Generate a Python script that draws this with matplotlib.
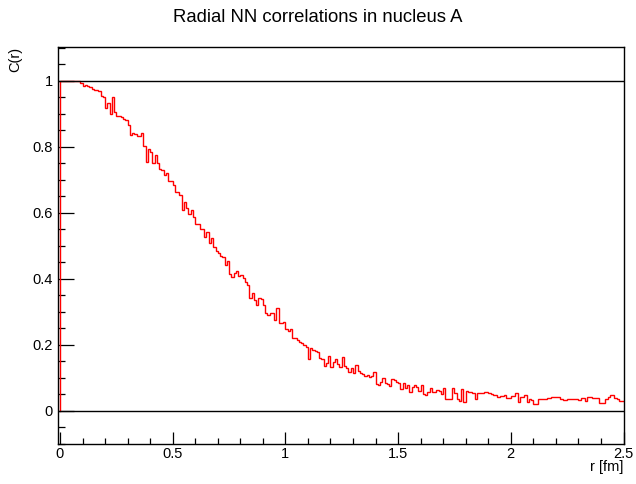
import numpy as np
import matplotlib
matplotlib.use("Agg")
import matplotlib.pyplot as plt
from matplotlib.ticker import MultipleLocator, FuncFormatter

plt.rcParams['font.family'] = ['Liberation Sans', 'DejaVu Sans']

# ---- data ----
r_min, r_max, n_bins = 0.0, 2.5, 250
corr = [
    1.0, 1.0, 1.0, 1.0, 1.0, 1.0, 1.0, 1.0, 1.0, 0.994,
    0.985, 0.989, 0.985, 0.982, 0.977, 0.972, 0.974, 0.969, 0.955, 0.95,
    0.917, 0.932, 0.899, 0.95, 0.907, 0.894, 0.894, 0.892, 0.884, 0.882,
    0.867, 0.836, 0.843, 0.84, 0.833, 0.833, 0.843, 0.803, 0.755, 0.794,
    0.786, 0.752, 0.776, 0.751, 0.733, 0.73, 0.715, 0.722, 0.697, 0.697,
    0.685, 0.663, 0.663, 0.655, 0.61, 0.633, 0.615, 0.597, 0.61, 0.589,
    0.567, 0.567, 0.552, 0.552, 0.528, 0.541, 0.51, 0.524, 0.498, 0.485,
    0.478, 0.471, 0.466, 0.442, 0.455, 0.415, 0.407, 0.417, 0.425, 0.409,
    0.412, 0.402, 0.392, 0.382, 0.341, 0.357, 0.336, 0.321, 0.341, 0.338,
    0.321, 0.296, 0.291, 0.296, 0.298, 0.276, 0.313, 0.268, 0.266, 0.271,
    0.248, 0.242, 0.247, 0.222, 0.222, 0.215, 0.21, 0.205, 0.2, 0.195,
    0.157, 0.192, 0.185, 0.183, 0.18, 0.16, 0.158, 0.136, 0.144, 0.167,
    0.134, 0.149, 0.157, 0.142, 0.134, 0.163, 0.136, 0.131, 0.119, 0.131,
    0.114, 0.139, 0.122, 0.116, 0.112, 0.106, 0.109, 0.102, 0.106, 0.119,
    0.082, 0.079, 0.089, 0.099, 0.086, 0.082, 0.076, 0.096, 0.094, 0.089,
    0.084, 0.066, 0.084, 0.069, 0.079, 0.059, 0.074, 0.079, 0.072, 0.062,
    0.079, 0.052, 0.048, 0.059, 0.069, 0.059, 0.059, 0.064, 0.062, 0.051,
    0.071, 0.035, 0.035, 0.035, 0.071, 0.056, 0.035, 0.03, 0.068, 0.027,
    0.061, 0.058, 0.058, 0.054, 0.035, 0.054, 0.056, 0.056, 0.058, 0.058,
    0.054, 0.051, 0.047, 0.047, 0.043, 0.045, 0.045, 0.047, 0.04, 0.04,
    0.045, 0.045, 0.054, 0.027, 0.043, 0.043, 0.047, 0.027, 0.037, 0.033,
    0.02, 0.02, 0.035, 0.035, 0.037, 0.037, 0.04, 0.04, 0.042, 0.042,
    0.042, 0.042, 0.035, 0.033, 0.033, 0.037, 0.037, 0.035, 0.037, 0.037,
    0.033, 0.04, 0.04, 0.03, 0.043, 0.043, 0.04, 0.04, 0.04, 0.025,
    0.025, 0.025, 0.035, 0.043, 0.047, 0.047, 0.04, 0.037, 0.03, 0.03,
]
ref_lines = [0.0, 1.0]
title = "Radial NN correlations in nucleus A"
xlabel = "r [fm]"
ylabel = "C(r)"

# ---- figure ----
W, H = 636, 484
fig = plt.figure(figsize=(W / 100, H / 100), dpi=100)
ax = fig.add_axes([58.5 / W, 1 - 444 / H, (623.5 - 58.5) / W, (444 - 47) / H])

vals = np.asarray(corr)
edges = np.linspace(r_min, r_max, n_bins + 1)
xs = np.concatenate([[edges[0]], np.repeat(edges, 2)[1:-1]])
ys = np.concatenate([[0.0], np.repeat(vals, 2)])
ax.plot(xs, ys, color='#ff0000', lw=1.0, solid_joinstyle='miter', zorder=2)

for v in ref_lines:
    ax.axhline(v, color='black', lw=1.0, zorder=3)

ax.set_xlim(-0.0065, 2.5)
ax.set_ylim(-0.1, 1.103)

ax.xaxis.set_major_locator(MultipleLocator(0.5))
ax.xaxis.set_minor_locator(MultipleLocator(0.1))
ax.yaxis.set_major_locator(MultipleLocator(0.2))
ax.yaxis.set_minor_locator(MultipleLocator(0.05))

fmt = FuncFormatter(lambda v, p: ('%g' % round(v, 3)))
ax.xaxis.set_major_formatter(fmt)
ax.yaxis.set_major_formatter(fmt)

ax.tick_params(axis='both', which='both', direction='in', top=False, right=False,
               labelsize=10.5, width=0.9, color='black')
ax.tick_params(axis='y', which='major', length=11.5, pad=4)
ax.tick_params(axis='y', which='minor', length=5)
ax.tick_params(axis='x', which='major', length=8.6, pad=2.5)
ax.tick_params(axis='x', which='minor', length=4)

for s in ax.spines.values():
    s.set_linewidth(1.0)
    s.set_color('black')

fig.text(0.5, 1 - 22 / H, title, ha='center', va='baseline', fontsize=13.3)
fig.text(623.5 / W, 1 - 467 / H, xlabel, ha='right', va='center', fontsize=10.5)
fig.text(15 / W, 1 - 47 / H, ylabel, ha='center', va='top', rotation=90, fontsize=10.5)

fig.savefig('out.png', dpi=100)
